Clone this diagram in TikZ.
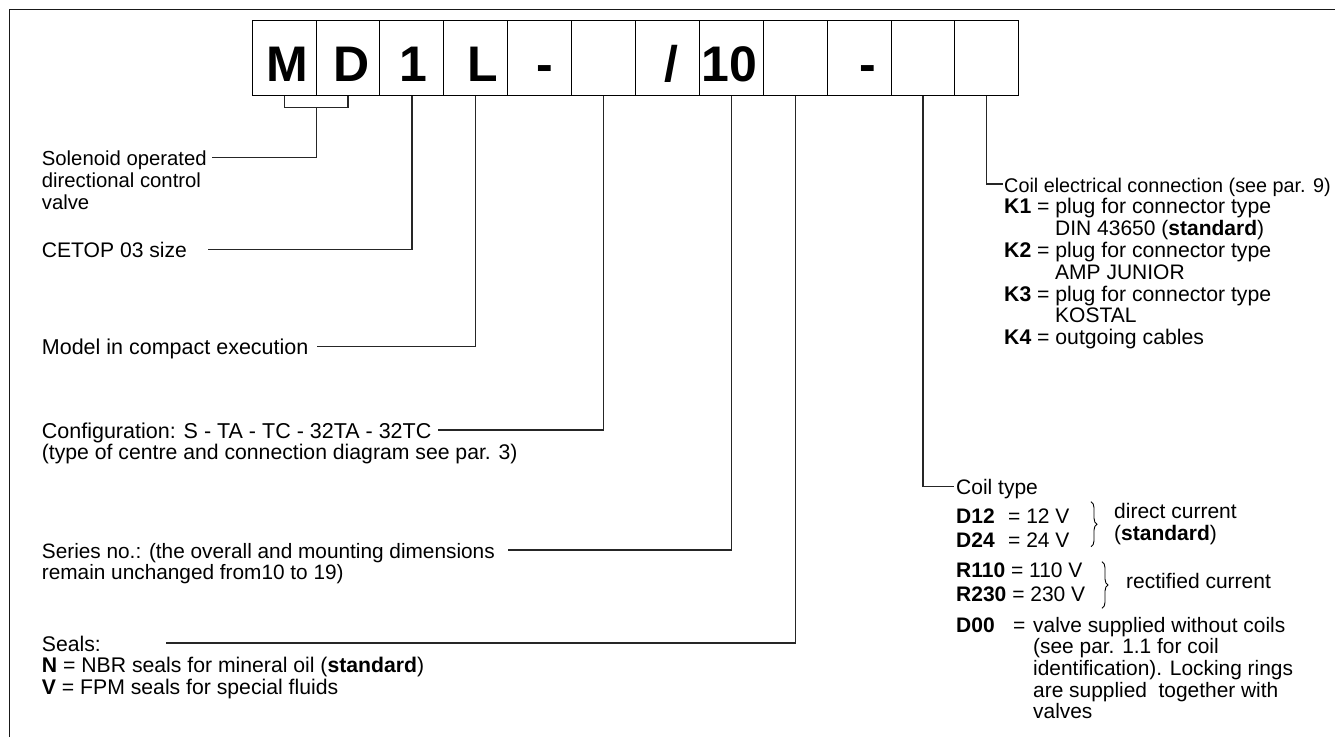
\documentclass[tikz,border=0pt]{standalone}
\usepackage{fontspec}
\setmainfont{Liberation Sans}
\usetikzlibrary{calc,decorations.pathreplacing}
\begin{document}
\begin{tikzpicture}[x=1pt,y=-1pt,
  txt/.style={anchor=base west, inner sep=0pt, font=\fontsize{#1}{21.7}\selectfont},
  txt/.default=21,
  cell/.style={draw=black, line width=1pt, minimum width=63.88pt, minimum height=75pt, inner sep=0pt, anchor=north west},
  big/.style={anchor=base, inner sep=0pt, font=\fontsize{50}{50}\selectfont\bfseries},
  conn/.style={draw=black!85, line width=1.2pt},
  frame/.style={draw=black!90, line width=1.4pt},
  bracebig/.style={decorate, decoration={brace, amplitude=6pt}, line width=0.9pt}]
\useasboundingbox (0,0) rectangle (1335,737);
\fill[white] (0,0) rectangle (1335,737);
\draw[frame] (9.3,737) -- (9.3,9.3) -- (1335,9.3);

% cells
\foreach \i in {0,...,11}{
  \node[cell] (c\i) at (251.7+\i*63.88,20) {};
}
% letters
\node[big] (lM) at (287.5,81) {M};
\node[big] (lD) at (351.7,81) {D};
\node[big] (l1) at (413.8,81) {1};
\node[big] (lL) at (482.8,81) {L};
\node[big] (lh1) at (544.5,81) {-};
\node[big] (ls) at (671.7,81) {/};
\node[big] (l10) at (729,81) {10};
\node[big] (lh2) at (868,81) {-};

% left texts
\node[txt=20.3] (tSolA) at (41.7,165.7) {Solenoid operated};
\node[txt=20.3] (tSolB) at (41.7,187.4) {directional control};
\node[txt=20.3] (tSolC) at (41.7,209.1) {valve};
\node[txt=21.1] (tCet) at (41.7,257.3) {CETOP 03 size};
\node[txt=21.5] (tMod) at (41.7,354.7) {Model in compact execution};
\node[txt=21.5] (tCfgA) at (41.7,438) {Configuration: S - TA - TC - 32TA - 32TC};
\node[txt=21.2] (tCfgB) at (41.7,459.7) {(type of centre and connection diagram see par. 3)};
\node[txt=20.8] (tSerA) at (41.7,558) {Series no.: (the overall and mounting dimensions};
\node[txt=20.8] (tSerB) at (41.7,579.7) {remain unchanged from10 to 19)};
\node[txt=21.2] (tSeaA) at (41.7,651) {Seals:};
\node[txt=21.2] (tSeaB) at (41.7,672.7) {\textbf{N} = NBR seals for mineral oil (\textbf{standard})};
\node[txt=21.2] (tSeaC) at (41.7,694.4) {\textbf{V} = FPM seals for special fluids};

% right texts: coil electrical connection
\node[txt=19.8] (tCeA) at (1004,192) {Coil electrical connection (see par. 9)};
\node[txt=21.2] (tCeB) at (1004,213.8) {\textbf{K1} = plug for connector type};
\node[txt] (tCeC) at (1055,235.6) {DIN 43650 (\textbf{standard})};
\node[txt=21.2] (tCeD) at (1004,257.4) {\textbf{K2} = plug for connector type};
\node[txt] (tCeE) at (1055,279.2) {AMP JUNIOR};
\node[txt=21.2] (tCeF) at (1004,301) {\textbf{K3} = plug for connector type};
\node[txt] (tCeG) at (1055,322.8) {KOSTAL};
\node[txt=21.2] (tCeH) at (1004,344.6) {\textbf{K4} = outgoing cables};

% coil type
\node[txt] (tCt) at (956,494.7) {Coil type};
\node[txt] (tD12) at (956,523.7) {\textbf{D12}};
\node[txt] (tD12v) at (1008,523.7) {= 12 V};
\node[txt] (tD24) at (956,547) {\textbf{D24}};
\node[txt] (tD24v) at (1008,547) {= 24 V};
\node[txt] (tR110) at (956,577) {\textbf{R110} = 110 V};
\node[txt] (tR230) at (956,601) {\textbf{R230} = 230 V};
\node[txt] (tD00) at (956,632) {\textbf{D00}};
\node[txt] (tD00e) at (1013,632) {=};
\node[txt=20.9] (tD00a) at (1033,632) {valve supplied without coils};
\node[txt=20.9] (tD00b) at (1033,653.7) {(see par. 1.1 for coil};
\node[txt=20.9] (tD00c) at (1033,675.4) {identification). Locking rings};
\node[txt=20.9] (tD00d) at (1033,697.1) {are supplied\ \ together with};
\node[txt=20.9] (tD00f) at (1033,718.8) {valves};
\node[txt] (tDcA) at (1114,518.7) {direct current};
\node[txt] (tDcB) at (1114,540.3) {(\textbf{standard})};
\node[txt] (tRc) at (1126,588.7) {rectified current};

% braces
\draw[bracebig] (1091,501.7) -- (1091,546.7);
\draw[bracebig] (1102,561.7) -- (1102,608.3);

% connectors
\draw[conn] (c0.south) -- ++(0,11.7) -| (c1.south);
\draw[conn] ($(c0.south east)+(0,11.7)$) |- ($(tSolA.base east)+(5,-8)$);
\draw[conn] (c2.south) |- (208.3,249.3);
\draw[conn] (c3.south) |- ($(tMod.base east)+(8,-8)$);
\draw[conn] (c5.south) |- ($(tCfgA.base east)+(6,-8)$);
\draw[conn] (c7.south) |- ($(tSerA.base east)+(13,-8)$);
\draw[conn] (c8.south) |- (165.7,643);
\draw[conn] (c10.south) |- ($(tCt.base west)+(-2,-8)$);
\draw[conn] (c11.south) |- ($(tCeA.base west)+(-1,-8)$);
\end{tikzpicture}
\end{document}
